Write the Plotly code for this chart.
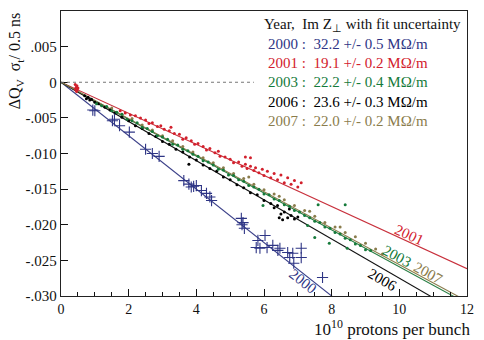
import plotly.graph_objects as go

# ---------------- data ----------------
years = ["2000", "2001", "2003", "2006", "2007"]
impedance = ["32.2 +/- 0.5", "19.1 +/- 0.2", "22.2 +/- 0.4", "23.6 +/- 0.3", "22.0 +/- 0.2"]
fit_slopes = [-0.00375, -0.00218, -0.00259, -0.00275, -0.00256]   # dQ per 1e10 protons
colors = ["#2e3585", "#d2202c", "#157a3a", "#000000", "#8a7c4c"]
line_colors = ["#3a3f88", "#c8303c", "#2a7f45", "#111111", "#8a7c4c"]

x2000 = [0.94, 1.0, 1.52, 1.58, 1.73, 2.02, 2.5, 2.7, 2.9, 3.63, 3.78, 3.85, 3.92, 4.0, 4.15, 4.3, 4.4, 4.45,
         5.33, 5.38, 5.42, 5.35, 5.82, 5.77, 5.88, 6.03, 6.09, 6.26, 6.41, 6.47, 6.7, 6.76, 6.85, 7.1, 7.1, 6.88, 7.73]
y2000 = [-0.0039, -0.0040, -0.0054, -0.0052, -0.0061, -0.0070, -0.0094, -0.0100, -0.0104, -0.0138, -0.0143, -0.0147,
         -0.0146, -0.0145, -0.0152, -0.0156, -0.0161, -0.0166, -0.0191, -0.0197, -0.0205, -0.0200, -0.0222, -0.0232,
         -0.0233, -0.0215, -0.0232, -0.0229, -0.0236, -0.0233, -0.0239, -0.0246, -0.0240, -0.0233, -0.0246, -0.0254,
         -0.0274]

x2001 = [0.42, 0.45, 0.48, 0.44, 0.47, 0.50, 0.43, 0.46, 1.75, 1.9, 2.05, 2.2, 2.35, 2.5, 2.6, 2.7, 2.85, 2.95,
         3.05, 3.2, 3.25, 3.35, 3.5, 3.6, 3.7, 3.85, 3.95, 4.05, 4.2, 4.3, 4.4, 4.55, 4.65, 4.7, 4.85, 5.0, 5.1,
         5.25, 5.35, 5.45, 5.5, 5.6, 5.7, 5.75, 5.85, 5.95, 6.0, 6.1, 6.2, 6.3, 6.4, 6.5, 6.6, 6.7, 6.8, 6.9, 7.0,
         7.1, 5.45, 5.6]
y2001 = [-0.0003, -0.0007, -0.0010, -0.0011, -0.0005, -0.0008, -0.0009, -0.0013, -0.0040, -0.0043, -0.0046,
         -0.0047, -0.0050, -0.0053, -0.0058, -0.0057, -0.0062, -0.0061, -0.0066, -0.0068, -0.0063, -0.0072,
         -0.0073, -0.0080, -0.0078, -0.0082, -0.0087, -0.0086, -0.0090, -0.0095, -0.0093, -0.0099, -0.0097,
         -0.0104, -0.0105, -0.0108, -0.0113, -0.0112, -0.0118, -0.0115, -0.0121, -0.0118, -0.0124, -0.0120,
         -0.0127, -0.0122, -0.0131, -0.0125, -0.0134, -0.0128, -0.0137, -0.0130, -0.0141, -0.0134, -0.0143,
         -0.0138, -0.0147, -0.0141, -0.0105, -0.0106]

x2003 = [1.05, 1.2, 1.35, 1.5, 1.65, 1.8, 1.95, 2.1, 2.25, 2.4, 2.55, 2.7, 2.85, 3.0, 3.15, 3.3, 3.45, 3.6, 3.75,
         3.9, 4.05, 4.2, 4.35, 4.5, 4.65, 4.8, 4.95, 5.1, 5.25, 5.4, 5.55, 5.7, 5.85, 6.0, 6.15, 6.3, 6.45, 6.6,
         6.75, 6.9, 7.05, 7.2, 7.35, 7.5, 7.65, 7.8, 7.95, 8.1, 8.25, 8.4, 8.55, 8.7, 8.85, 9.0, 9.15,
         7.6, 8.4, 7.29, 7.5, 7.93, 8.46, 5.97]
y2003 = [-0.0030, -0.0033, -0.0034, -0.0040, -0.0042, -0.0045, -0.0052, -0.0054, -0.0057, -0.0063, -0.0065,
         -0.0069, -0.0075, -0.0077, -0.0080, -0.0087, -0.0088, -0.0094, -0.0096, -0.0101, -0.0104, -0.0110,
         -0.0112, -0.0116, -0.0122, -0.0123, -0.0130, -0.0131, -0.0137, -0.0139, -0.0145, -0.0147, -0.0150,
         -0.0157, -0.0158, -0.0164, -0.0166, -0.0172, -0.0174, -0.0180, -0.0182, -0.0187, -0.0190, -0.0195,
         -0.0197, -0.0203, -0.0205, -0.0211, -0.0213, -0.0219, -0.0221, -0.0227, -0.0229, -0.0235, -0.0236,
         -0.0172, -0.0172, -0.0201, -0.0218, -0.0226, -0.0233, -0.0173]

x2006 = [0.7, 0.75, 0.8, 0.85, 0.9, 1.0, 1.1, 1.3, 1.45, 1.6, 1.8, 2.0, 2.2, 2.4, 2.6, 2.8, 3.0, 3.2, 3.4, 3.6,
         3.8, 4.0, 4.2, 4.4, 4.6, 4.8, 5.0, 5.2, 5.4, 5.6, 5.8, 6.0, 6.2, 6.3, 6.4, 6.5, 6.6, 6.7, 6.8, 6.9, 7.0,
         6.55, 6.75, 6.45, 3.78]
y2006 = [-0.0019, -0.0023, -0.0021, -0.0025, -0.0024, -0.0028, -0.0030, -0.0035, -0.0039, -0.0043, -0.0049,
         -0.0054, -0.0061, -0.0065, -0.0072, -0.0076, -0.0083, -0.0087, -0.0094, -0.0098, -0.0105, -0.0109,
         -0.0116, -0.0121, -0.0125, -0.0133, -0.0137, -0.0144, -0.0148, -0.0155, -0.0158, -0.0166, -0.0170,
         -0.0176, -0.0173, -0.0185, -0.0182, -0.0190, -0.0187, -0.0192, -0.0189, -0.0193, -0.0178, -0.0190,
         -0.0115]

x2007 = [1.5, 1.8, 2.1, 2.4, 2.7, 3.0, 3.3, 3.6, 3.9, 4.2, 4.5, 4.8, 5.1, 5.4, 5.7, 6.0, 6.3, 6.6, 6.9, 7.2, 7.5,
         7.8, 8.1, 8.4, 8.7, 9.0, 9.3, 9.5, 5.55, 6.45, 7.35, 8.25]
y2007 = [-0.0036, -0.0045, -0.0051, -0.0060, -0.0067, -0.0075, -0.0082, -0.0090, -0.0098, -0.0106, -0.0113,
         -0.0120, -0.0128, -0.0135, -0.0143, -0.0151, -0.0157, -0.0165, -0.0173, -0.0180, -0.0188, -0.0197,
         -0.0203, -0.0211, -0.0217, -0.0226, -0.0234, -0.0241, -0.0133, -0.0160, -0.0181, -0.0203]

y_tickvals = [0.005, 0.0, -0.005, -0.010, -0.015, -0.020, -0.025, -0.030]
y_ticktext = [".005", "0", "-.005", "-.010", "-.015", "-.020", "-.025", "-.030"]
x_tickvals = [0, 2, 4, 6, 8, 10, 12]

# label placement along fit lines (x, y, angle)
label_pos = {"2000": (7.14, -0.0279, 38), "2001": (10.3, -0.0215, 24.5), "2003": (9.92, -0.0244, 28.5),
             "2006": (9.51, -0.0278, 30), "2007": (10.85, -0.0268, 28.2)}

FONT = "Liberation Serif, Times New Roman, serif"

fig = go.Figure()

# fit lines
fit_x = [0, 12]
for yr, s, c in zip(years, fit_slopes, line_colors):
    fig.add_trace(go.Scatter(x=fit_x, y=[s * v for v in fit_x], mode="lines",
                             line=dict(color=c, width=1.1), showlegend=False, hoverinfo="skip"))

# data points
series = [("2000", x2000, y2000), ("2001", x2001, y2001), ("2003", x2003, y2003),
          ("2006", x2006, y2006), ("2007", x2007, y2007)]
order = ["2007", "2001", "2006", "2003", "2000"]
for yr in order:
    i = years.index(yr)
    _, xs, ys = series[i]
    if yr == "2000":
        marker = dict(symbol="cross-thin", size=8, line=dict(color=colors[i], width=1.1))
    else:
        marker = dict(symbol="circle", size=3, color=colors[i])
    fig.add_trace(go.Scatter(x=xs, y=ys, mode="markers", marker=marker, showlegend=False))

# zero dashed line
fig.add_shape(type="line", x0=0, x1=5.7, y0=0, y1=0, xref="x", yref="y",
              line=dict(color="#777777", width=1, dash="3px,3px"))

# line labels
for yr in years:
    i = years.index(yr)
    lx, ly, ang = label_pos[yr]
    fig.add_annotation(x=lx, y=ly, xref="x", yref="y", text=yr, showarrow=False, textangle=ang,
                       font=dict(family=FONT, size=15, color=colors[i]))

# legend text block
fig.add_annotation(x=0.495, y=0.951, xref="paper", yref="paper", xanchor="left", yanchor="middle",
                   text="Year,  Im Z<sub>⊥</sub> with fit uncertainty", showarrow=False,
                   font=dict(family=FONT, size=15, color="#111111"))
row_y = [0.885, 0.818, 0.752, 0.682, 0.615]
for yr, imp, c, ry in zip(years, impedance, colors, row_y):
    fig.add_annotation(x=0.505, y=ry, xref="paper", yref="paper", xanchor="left", yanchor="middle",
                       text=f"{yr} :  {imp} MΩ/m", showarrow=False,
                       font=dict(family=FONT, size=15, color=c))

# axis titles
fig.add_annotation(x=-0.11, y=0.825, xref="paper", yref="paper", xanchor="center", yanchor="middle",
                   text="ΔQ<sub>V</sub>  σ<sub>t</sub>/ 0.5 ns", textangle=-90, showarrow=False,
                   font=dict(family=FONT, size=16, color="#111111"))
fig.add_annotation(x=1.013, y=-0.112, xref="paper", yref="paper", xanchor="right", yanchor="middle",
                   text="10<sup>10</sup> protons per bunch", showarrow=False,
                   font=dict(family=FONT, size=17, color="#111111"))

fig.update_xaxes(range=[0, 12], tickvals=x_tickvals, ticks="inside", ticklen=7, tickwidth=1,
                 tickcolor="#111", showline=True, linecolor="#222", linewidth=1.3, mirror=True,
                 showgrid=False, zeroline=False,
                 minor=dict(dtick=0.5, ticks="inside", ticklen=4, tickcolor="#111", showgrid=False),
                 tickfont=dict(family=FONT, size=14, color="#111"))
fig.update_yaxes(range=[-0.030, 0.010], tickvals=y_tickvals, ticktext=y_ticktext, ticks="inside",
                 ticklen=7, tickwidth=1, tickcolor="#111", showline=True, linecolor="#222", linewidth=1.3,
                 mirror=True, showgrid=False, zeroline=False,
                 tickfont=dict(family=FONT, size=15, color="#111"))

fig.update_layout(width=484, height=340, margin=dict(l=61, r=13, t=10, b=44),
                  font=dict(family=FONT),
                  plot_bgcolor="white", paper_bgcolor="white", showlegend=False)

fig.write_html("out.html")
